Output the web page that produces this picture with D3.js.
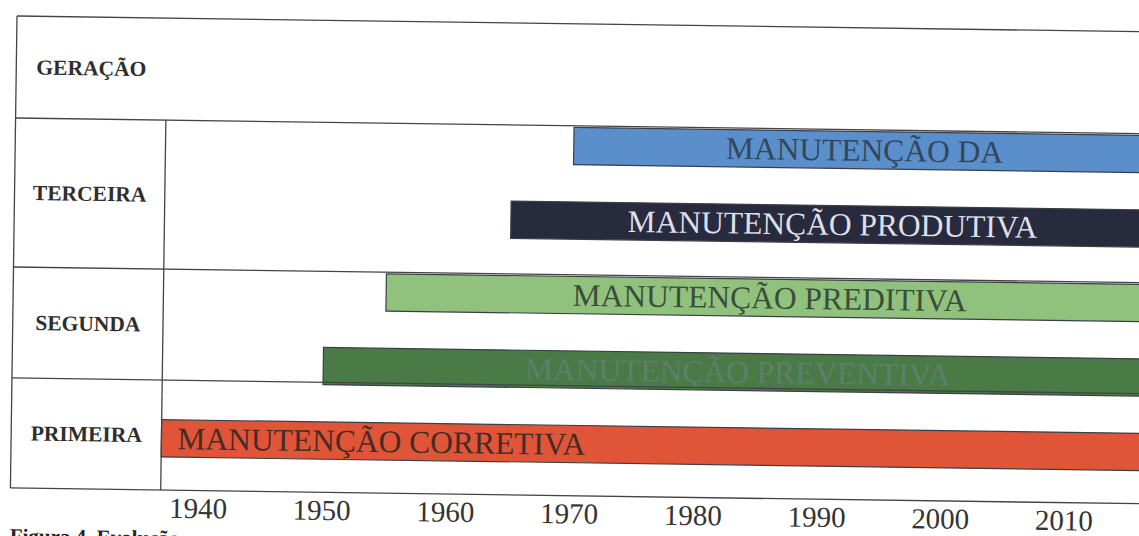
<!DOCTYPE html>
<html>
<head>
<meta charset="utf-8">
<script src="https://cdn.jsdelivr.net/npm/d3@7"></script>
<style>
  html, body { margin: 0; padding: 0; background: #fff; overflow: hidden; }
  svg { display: block; font-family: "Liberation Serif", "Times New Roman", serif; }
</style>
</head>
<body>
<div id="chart"></div>
<script>
const width = 1139;
const height = 536;

// generations (row labels of the table)
var generations = ['GERAÇÃO', 'TERCEIRA', 'SEGUNDA', 'PRIMEIRA'];

// maintenance types, top to bottom
var labels = ['MANUTENÇÃO DA', 'MANUTENÇÃO PRODUTIVA', 'MANUTENÇÃO PREDITIVA', 'MANUTENÇÃO PREVENTIVA', 'MANUTENÇÃO CORRETIVA'];
var startYears = [1970, 1965, 1955, 1950, 1937];
var endYears = [2017, 2017, 2017, 2017, 2017];

// tick labels under the table
var years = [1940, 1950, 1960, 1970, 1980, 1990, 2000, 2010];

var caption = 'Figura 4. Evolução';

// colours
var barColors = ['#5b8fcc', '#282b3e', '#90c27e', '#4a7a46', '#e05438'];
var textColors = ['#33475a', '#dedfe8', '#3b4e3b', '#5e7f6b', '#452c27'];
var color_line = '#444';

// table layout (pixels)
var tableLeft = 17, tableRight = 1200;
var rowEdges = [16, 118, 267, 378, 488];

var svg = d3.select('#chart')
  .append('svg')
  .attr('width', width)
  .attr('height', height);

// the scanned page is a little tilted
var page = svg.append('g')
  .attr('transform', 'rotate(0.8,17,16)');

var x = d3.scaleLinear()
  .domain([1937, 2017])
  .range([167.3, 1157]);

var y = d3.scaleBand()
  .domain(labels)
  .range([101, 473.5])
  .paddingInner(0.5)
  .paddingOuter(0.25);

// bars
var bars = page.append('g');
bars.selectAll('rect')
  .data(labels)
  .enter()
  .append('rect')
  .attr('x', function(d, i) { return x(startYears[i]); })
  .attr('y', function(d) { return y(d); })
  .attr('width', function(d, i) { return x(endYears[i]) - x(startYears[i]); })
  .attr('height', y.bandwidth())
  .attr('fill', function(d, i) { return barColors[i]; })
  .attr('stroke', '#3a3f48')
  .attr('stroke-width', 1.2);

bars.selectAll('text')
  .data(labels)
  .enter()
  .append('text')
  .attr('x', function(d, i) {
    // the corrective one is left aligned, the rest centred in the bar
    if (i == labels.length - 1) return x(startYears[i]) + 16;
    return (x(startYears[i]) + x(endYears[i])) / 2;
  })
  .attr('y', function(d) { return y(d) + y.bandwidth() / 2; })
  .attr('dy', '0.34em')
  .attr('text-anchor', function(d, i) { return i == labels.length - 1 ? 'start' : 'middle'; })
  .attr('fill', function(d, i) { return textColors[i]; })
  .style('font-size', '31.5px')
  .text(function(d) { return d; });

// table grid
var grid = page.append('g')
  .attr('stroke', color_line)
  .attr('stroke-width', 1.3)
  .attr('fill', 'none');

grid.selectAll('line.h')
  .data(rowEdges)
  .enter()
  .append('line')
  .attr('class', 'h')
  .attr('x1', tableLeft)
  .attr('x2', tableRight)
  .attr('y1', function(d) { return d; })
  .attr('y2', function(d) { return d; });

grid.append('line')
  .attr('x1', tableLeft).attr('x2', tableLeft)
  .attr('y1', rowEdges[0]).attr('y2', rowEdges[rowEdges.length - 1]);

grid.append('line')
  .attr('x1', x(1937)).attr('x2', x(1937))
  .attr('y1', rowEdges[1]).attr('y2', rowEdges[rowEdges.length - 1]);

// generation labels
page.append('g').selectAll('text')
  .data(generations)
  .enter()
  .append('text')
  .attr('x', (tableLeft + x(1937)) / 2)
  .attr('y', function(d, i) { return (rowEdges[i] + rowEdges[i + 1]) / 2; })
  .attr('dy', '0.34em')
  .attr('text-anchor', 'middle')
  .attr('fill', '#2e2e2e')
  .style('font-size', '21.5px')
  .style('font-weight', 'bold')
  .text(function(d) { return d; });

// years
var axis = page.append('g')
  .attr('transform', 'translate(0,495)')
  .call(d3.axisBottom(x).tickValues(years).tickFormat(d3.format('d')).tickSize(0).tickPadding(0));
axis.select('.domain').remove();
axis.selectAll('text')
  .attr('fill', '#333')
  .style('font-family', '"Liberation Serif", serif')
  .style('font-size', '29px');

// caption (cut off by the page edge)
page.append('text')
  .attr('x', tableLeft)
  .attr('y', 543)
  .attr('fill', '#222')
  .style('font-size', '21px')
  .style('font-weight', 'bold')
  .text(caption);
</script>
</body>
</html>
